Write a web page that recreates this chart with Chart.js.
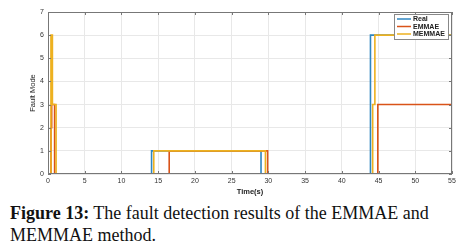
<!DOCTYPE html>
<html>
<head>
<meta charset="utf-8">
<script src="https://cdn.jsdelivr.net/npm/chart.js@4.4.1/dist/chart.umd.min.js"></script>
<style>
  html, body { margin: 0; padding: 0; background: #fff; width: 467px; height: 249px; overflow: hidden; }
  #wrap { position: absolute; left: 0; top: 0; width: 467px; height: 196px; }
  #caption {
    position: absolute; left: 10px; top: 202px; width: 420px;
    font-family: 'Liberation Serif', 'Times New Roman', serif;
    font-size: 18px; line-height: 22px; color: #111;
  }
  #caption b { font-weight: bold; }
</style>
</head>
<body>
<div id="wrap"><canvas id="faultChart"></canvas></div>
<div id="caption"><b>Figure 13:</b> The fault detection results of the EMMAE and MEMMAE method.</div>
<script>
const seriesLabels = ['Real', 'EMMAE', 'MEMMAE'];
const seriesColors = ['#2f86c0', '#d95319', '#edb120'];

// change points: [time, new fault mode]
const realSteps = [[0, 0], [14.1, 1], [29.0, 0], [43.9, 6], [55, 6]];
const emmaeSteps = [[0, 0], [0.4, 2], [0.5, 3], [0.9, 0], [16.5, 1], [29.9, 0], [44.9, 3], [55, 3]];
const memmaeSteps = [[0, 0], [0.4, 6], [0.6, 3], [1.1, 0], [14.4, 1], [29.6, 0], [44.2, 3], [44.5, 6], [55, 6]];

const xTicks = [0, 5, 10, 15, 20, 25, 30, 35, 40, 45, 50, 55];
const yTicks = [0, 1, 2, 3, 4, 5, 6, 7];

const toPoints = steps => steps.map(([x, y]) => ({ x, y }));
const tickFont = { family: 'Liberation Sans, Arial, sans-serif', size: 7 };

const boxAndLegend = {
    id: 'boxAndLegend',
    afterDraw(chart) {
        const { ctx, chartArea: a, scales } = chart;
        ctx.save();
        ctx.strokeStyle = '#777';
        ctx.lineWidth = 1;
        ctx.strokeRect(a.left + 0.5, a.top + 0.5, a.right - a.left - 1, a.bottom - a.top - 1);

        // inward ticks on every side
        ctx.beginPath();
        xTicks.forEach(v => {
            const px = Math.round(scales.x.getPixelForValue(v)) + 0.5;
            ctx.moveTo(px, a.bottom); ctx.lineTo(px, a.bottom - 3);
            ctx.moveTo(px, a.top); ctx.lineTo(px, a.top + 3);
        });
        yTicks.forEach(v => {
            const py = Math.round(scales.y.getPixelForValue(v)) + 0.5;
            ctx.moveTo(a.left, py); ctx.lineTo(a.left + 3, py);
            ctx.moveTo(a.right, py); ctx.lineTo(a.right - 3, py);
        });
        ctx.stroke();

        // legend box, top right inside plot
        const bw = 54, bh = 25;
        const bx = a.right - bw - 4, by = a.top + 2;
        ctx.fillStyle = '#fff';
        ctx.fillRect(bx, by, bw, bh);
        ctx.strokeStyle = '#888';
        ctx.strokeRect(bx + 0.5, by + 0.5, bw, bh);
        ctx.font = 'bold 7px Liberation Sans, Arial, sans-serif';
        ctx.textBaseline = 'middle';
        chart.data.datasets.forEach((ds, i) => {
            const ly = by + 5 + i * 7.5;
            ctx.strokeStyle = ds.borderColor;
            ctx.lineWidth = 1.5;
            ctx.beginPath();
            ctx.moveTo(bx + 3, ly); ctx.lineTo(bx + 17, ly);
            ctx.stroke();
            ctx.fillStyle = '#222';
            ctx.fillText(ds.label, bx + 19, ly + 0.5);
        });
        ctx.restore();
    }
};

new Chart(document.getElementById('faultChart'), {
    type: 'line',
    data: {
        datasets: [
            { label: seriesLabels[0], data: toPoints(realSteps), borderColor: seriesColors[0], order: 3 },
            { label: seriesLabels[1], data: toPoints(emmaeSteps), borderColor: seriesColors[1], order: 2 },
            { label: seriesLabels[2], data: toPoints(memmaeSteps), borderColor: seriesColors[2], order: 1 }
        ].map(ds => ({ ...ds, stepped: 'before', borderWidth: 1.6, pointRadius: 0, fill: false }))
    },
    options: {
        responsive: true,
        maintainAspectRatio: false,
        animation: false,
        layout: { padding: { left: 28, top: 12, right: 15, bottom: 0 } },
        plugins: { legend: { display: false }, tooltip: { enabled: false } },
        scales: {
            x: {
                type: 'linear', min: 0, max: 55,
                afterBuildTicks: s => { s.ticks = xTicks.map(v => ({ value: v })); },
                afterFit: s => { s.height = 22; },
                grid: { color: '#e8e8e8', drawTicks: false },
                border: { display: false },
                ticks: { font: tickFont, color: '#333', padding: 3, maxRotation: 0 },
                title: { display: true, text: 'Time(s)', font: { ...tickFont, size: 7.5, weight: 'bold' }, color: '#222', padding: { top: 0, bottom: 0 } }
            },
            y: {
                min: 0, max: 7,
                afterBuildTicks: s => { s.ticks = yTicks.map(v => ({ value: v })); },
                afterFit: s => { s.width = 20; },
                grid: { color: '#e8e8e8', drawTicks: false },
                border: { display: false },
                ticks: { font: tickFont, color: '#333', padding: 4 },
                title: { display: true, text: 'Fault Mode', font: { ...tickFont, size: 7.5 }, color: '#222', padding: { top: 0, bottom: 0 } }
            }
        }
    },
    plugins: [boxAndLegend]
});
</script>
</body>
</html>
